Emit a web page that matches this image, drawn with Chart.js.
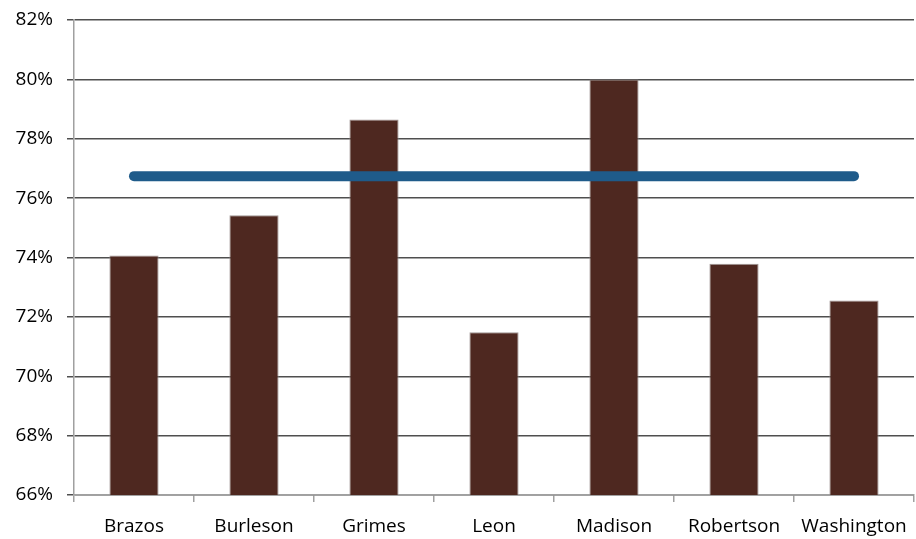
<!DOCTYPE html>
<html>
<head>
<meta charset="utf-8">
<script src="https://cdn.jsdelivr.net/npm/chart.js@4"></script>
<style>
  html, body { margin: 0; padding: 0; background: #fff; }
  #wrap { width: 916px; height: 539px; }
</style>
</head>
<body>
<div id="wrap"><canvas id="rateChart" width="916" height="539"></canvas></div>
<script>
// counties and their rates (percent)
const counties = ['Brazos', 'Burleson', 'Grimes', 'Leon', 'Madison', 'Robertson', 'Washington'];
const countyRates = [74.07, 75.42, 78.65, 71.48, 80.0, 73.79, 72.55];
const regionAverage = [76.74, 76.74, 76.74, 76.74, 76.74, 76.74, 76.74];
const yTicks = [66, 68, 70, 72, 74, 76, 78, 80, 82];

const tickFont = { family: "'Open Sans', 'Liberation Sans', sans-serif", size: 19 };

document.addEventListener("DOMContentLoaded", () => {
  const ctx = document.getElementById('rateChart');

  new Chart(ctx, {
    data: {
      labels: counties,
      datasets: [
        {
          type: 'line',
          label: 'Region',
          data: regionAverage,
          borderColor: '#1f5b8a',
          borderWidth: 10,
          borderCapStyle: 'round',
          pointRadius: 0,
          fill: false,
          order: 0
        },
        {
          type: 'bar',
          label: 'County',
          data: countyRates,
          backgroundColor: '#4e2820',
          borderColor: 'rgba(150,140,138,0.9)',
          borderWidth: 1,
          barPercentage: 0.41,
          categoryPercentage: 1,
          order: 1
        }
      ]
    },
    options: {
      responsive: false,
      animation: false,
      layout: { padding: { top: 20, right: 2, left: 0, bottom: 0 } },
      plugins: {
        legend: { display: false },
        tooltip: { enabled: false }
      },
      scales: {
        x: {
          offset: true,
          grid: {
            offset: true,
            drawOnChartArea: false,
            color: '#a0a0a0',
            tickLength: 7,
            lineWidth: 1.5
          },
          border: { color: '#a0a0a0', width: 1.5 },
          ticks: { color: '#000', font: tickFont, padding: 13, maxRotation: 0 },
          afterFit: (scale) => {
            scale.height = 44;
            scale.paddingLeft = 0;
            scale.paddingRight = 0;
          }
        },
        y: {
          min: 66,
          max: 82,
          afterBuildTicks: (scale) => { scale.ticks = yTicks.map(v => ({ value: v })); },
          grid: {
            color: '#4f4f4f',
            lineWidth: 1.5,
            tickLength: 7
          },
          border: { color: '#a0a0a0', width: 1.5 },
          ticks: {
            color: '#000',
            font: tickFont,
            padding: 14,
            callback: (v) => v + '%'
          },
          afterFit: (scale) => {
            scale.width = 74;
            scale.paddingTop = 0;
            scale.paddingBottom = 0;
          }
        }
      }
    }
  });
});
</script>
</body>
</html>
